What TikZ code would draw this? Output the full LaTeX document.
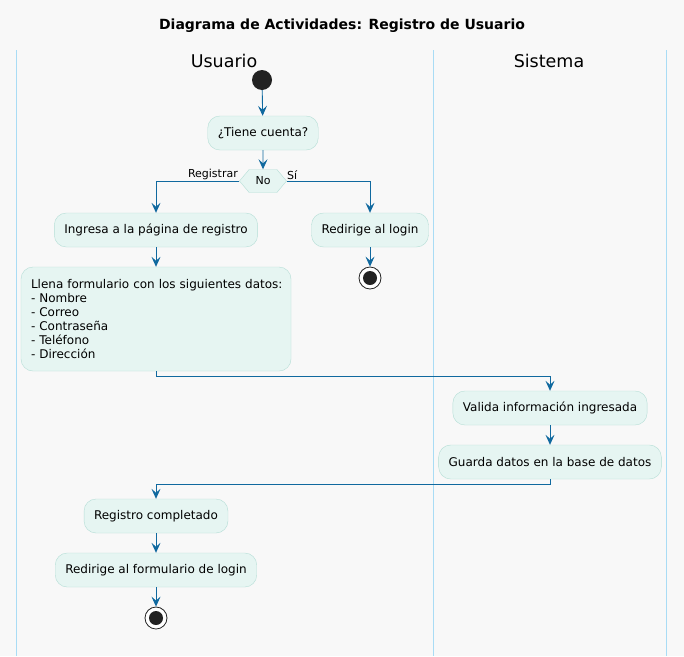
\documentclass[tikz,border=0pt]{standalone}
\usepackage{fontspec}
\setmainfont{DejaVu Sans}
\usetikzlibrary{shapes.symbols,arrows.meta}
\definecolor{bg}{HTML}{F8F8F8}
\definecolor{boxfill}{HTML}{E6F5F2}
\definecolor{boxline}{HTML}{B5DED6}
\definecolor{arrowc}{HTML}{10699F}
\definecolor{lanec}{HTML}{A9DCF5}
\definecolor{dotc}{HTML}{222222}
\begin{document}
\begin{tikzpicture}[x=1pt,y=-1pt,
  act/.style={draw=boxline,fill=boxfill,rounded corners=12pt,minimum height=34pt,inner xsep=10pt,font=\fontsize{12}{14}\selectfont,text=black},
  arr/.style={draw=arrowc,line width=0.9pt,-{Stealth[length=10pt,width=9pt,inset=4pt]}},
  lane/.style={draw=lanec,line width=0.9pt},
  startdot/.style={circle,fill=dotc,minimum size=20pt,inner sep=0pt},
  stopdot/.style={circle,draw=dotc,fill=white,line width=0.8pt,minimum size=22pt,inner sep=0pt,path picture={\fill[dotc] (path picture bounding box.center) circle (7pt);}},
  lbl/.style={font=\fontsize{11}{13}\selectfont,inner sep=1pt}]
\fill[bg] (0,0) rectangle (684,656);
\useasboundingbox (0,0) rectangle (684,656);
\node[font=\bfseries\fontsize{14}{16}\selectfont] (title) at (342,26) {Diagrama de Actividades: Registro de Usuario};
\draw[lane] (16,50) -- (16,656);
\draw[lane] (433,50) -- (433,656);
\draw[lane] (666,50) -- (666,656);
\node[font=\fontsize{17.5}{20}\selectfont] (lu) at (224,61) {Usuario};
\node[font=\fontsize{17.5}{20}\selectfont] (ls) at (549,61) {Sistema};

\node[startdot] (start) at (262,80) {};
\node[act] (b1) at (263,133) {¿Tiene cuenta?};
\node[draw=boxline,fill=boxfill,signal,signal to=west and east,signal pointer angle=100,minimum width=47pt,minimum height=23pt,inner sep=1pt,font=\fontsize{11}{13}\selectfont] (d) at (263,181) {No};
\node[act] (b2) at (156,230) {Ingresa a la página de registro};
\node[act] (r1) at (370,230) {Redirige al login};
\node[stopdot] (stop1) at (370,278) {};
\node[act,minimum width=270pt,minimum height=104pt,align=left,text width=258pt,inner xsep=6pt] (b3) at (156,319) {\hspace*{4pt}Llena formulario con los siguientes datos:\\\hspace*{4pt}- Nombre\\\hspace*{4pt}- Correo\\\hspace*{4pt}- Contraseña\\\hspace*{4pt}- Teléfono\\\hspace*{4pt}- Dirección};
\node[act] (b5) at (550,408) {Valida información ingresada};
\node[act] (b6) at (550,462) {Guarda datos en la base de datos};
\node[act] (b7) at (156,516) {Registro completado};
\node[act] (b8) at (156,570) {Redirige al formulario de login};
\node[stopdot] (stop2) at (156,618) {};

\draw[arr] (start) -- (b1);
\draw[arr] (b1) -- (d);
\draw[arr] (d.west) -| (b2.north);
\draw[arr] (d.east) -| (r1.north);
\node[lbl,anchor=south east] (lr) at (239,181) {Registrar};
\node[lbl,anchor=south west] (ls2) at (286,181) {Sí};
\draw[arr] (r1) -- (stop1);
\draw[arr] (b2) -- (b3);
\draw[arr] (b3.south) -- ++(0,5) -| (b5.north);
\draw[arr] (b5) -- (b6);
\draw[arr] (b6.south) -- ++(0,5) -| (b7.north);
\draw[arr] (b7) -- (b8);
\draw[arr] (b8) -- (stop2);
\end{tikzpicture}
\end{document}
